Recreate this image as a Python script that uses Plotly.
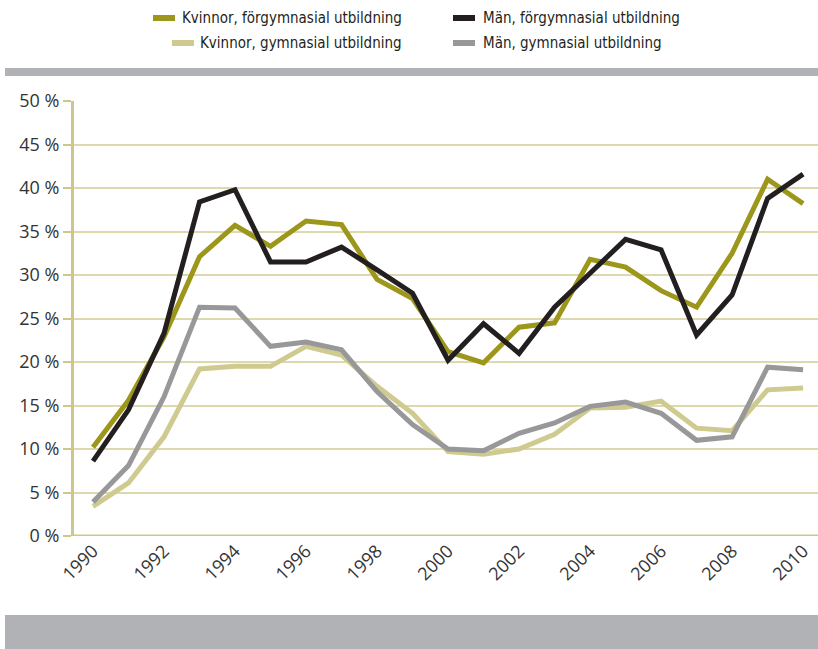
import plotly.graph_objects as go

years = list(range(1990, 2011))
kvinnor_forgym = [10.2, 15.6, 22.9, 32.1, 35.7, 33.3, 36.2, 35.8, 29.5, 27.3, 21.2,
                  19.9, 24.0, 24.5, 31.8, 30.9, 28.2, 26.3, 32.5, 41.0, 38.2]
man_forgym = [8.6, 14.5, 23.3, 38.4, 39.8, 31.5, 31.5, 33.2, 30.6, 27.9, 20.2,
              24.4, 21.0, 26.3, 30.2, 34.1, 32.9, 23.1, 27.7, 38.8, 41.6]
kvinnor_gym = [3.4, 6.1, 11.4, 19.2, 19.5, 19.5, 21.8, 20.8, 17.2, 14.1, 9.7,
               9.4, 10.0, 11.7, 14.7, 14.8, 15.5, 12.4, 12.1, 16.8, 17.0]
man_gym = [3.9, 8.1, 16.0, 26.3, 26.2, 21.8, 22.3, 21.4, 16.6, 12.8, 10.0,
           9.8, 11.8, 13.0, 14.9, 15.4, 14.1, 11.0, 11.4, 19.4, 19.1]

names = ["Kvinnor, förgymnasial utbildning", "Män, förgymnasial utbildning",
         "Kvinnor, gymnasial utbildning", "Män, gymnasial utbildning"]
colors = ["#9c961a", "#231f20", "#cfca8f", "#98989b"]
series = [kvinnor_forgym, man_forgym, kvinnor_gym, man_gym]

y_ticks = list(range(0, 51, 5))
y_tick_labels = [f"{v} %" for v in y_ticks]
x_ticks = list(range(1990, 2011, 2))

fig = go.Figure()
for i in [2, 3, 0, 1]:
    fig.add_trace(go.Scatter(x=years, y=series[i], mode="lines", name=names[i],
                             line=dict(color=colors[i], width=5),
                             showlegend=False, hoverinfo="x+y"))

axis_col = "#cdc78c"
grid_col = "#ddd9ae"

fig.update_layout(
    width=818, height=649,
    margin=dict(l=74, r=0, t=101, b=113),
    paper_bgcolor="white", plot_bgcolor="white",
    font=dict(family="Open Sans", color="#333333"),
    xaxis=dict(range=[1989.465, 2010.42], tickvals=x_ticks,
               ticktext=[str(v) for v in x_ticks], tickangle=-45,
               showgrid=False, zeroline=False, showline=False,
               ticks="", ticklabelshift=0,
               tickfont=dict(size=18, family="Open Sans", color="#333333")),
    yaxis=dict(range=[0, 50], tickvals=y_ticks, ticktext=y_tick_labels,
               showgrid=True, gridcolor=grid_col, gridwidth=1.5,
               zeroline=False, showline=True, linecolor=axis_col, linewidth=3,
               ticks="outside", ticklen=8, tickcolor=axis_col, tickwidth=2,
               tickfont=dict(size=18, family="Open Sans", color="#333333")),
)
fig.add_shape(type="line", xref="paper", yref="y", x0=0, x1=1, y0=0, y1=0,
              line=dict(color=axis_col, width=3))

def px_to_paper_y(py):
    return (536 - py) / 435.0

def px_to_paper_x(px):
    return (px - 74) / 744.0

fig.add_shape(type="rect", xref="paper", yref="paper",
              x0=px_to_paper_x(5), x1=1.0, y0=px_to_paper_y(76), y1=px_to_paper_y(68),
              fillcolor="#b1b2b5", line=dict(width=0), layer="below")
fig.add_shape(type="rect", xref="paper", yref="paper",
              x0=px_to_paper_x(5), x1=1.0, y0=px_to_paper_y(649), y1=px_to_paper_y(615),
              fillcolor="#b1b2b5", line=dict(width=0), layer="below")

legend_items = [
    (0, 153, 175, 404, "right", 18),
    (1, 453, 475, 481, "left", 18),
    (2, 172, 194, 404, "right", 43),
    (3, 453, 475, 481, "left", 43),
]
for idx, sx0, sx1, tx, anchor, py in legend_items:
    fig.add_shape(type="line", xref="paper", yref="paper",
                  x0=px_to_paper_x(sx0), x1=px_to_paper_x(sx1),
                  y0=px_to_paper_y(py), y1=px_to_paper_y(py),
                  line=dict(color=colors[idx], width=6))
    fig.add_annotation(xref="paper", yref="paper", x=px_to_paper_x(tx), y=px_to_paper_y(py),
                       text=names[idx], showarrow=False, xanchor=anchor, yanchor="middle",
                       font=dict(family="DejaVu Sans Condensed", size=15, color="#231f20"))

fig.write_html("out.html", config={"displayModeBar": False},
               post_script="document.body.style.margin='0';")
